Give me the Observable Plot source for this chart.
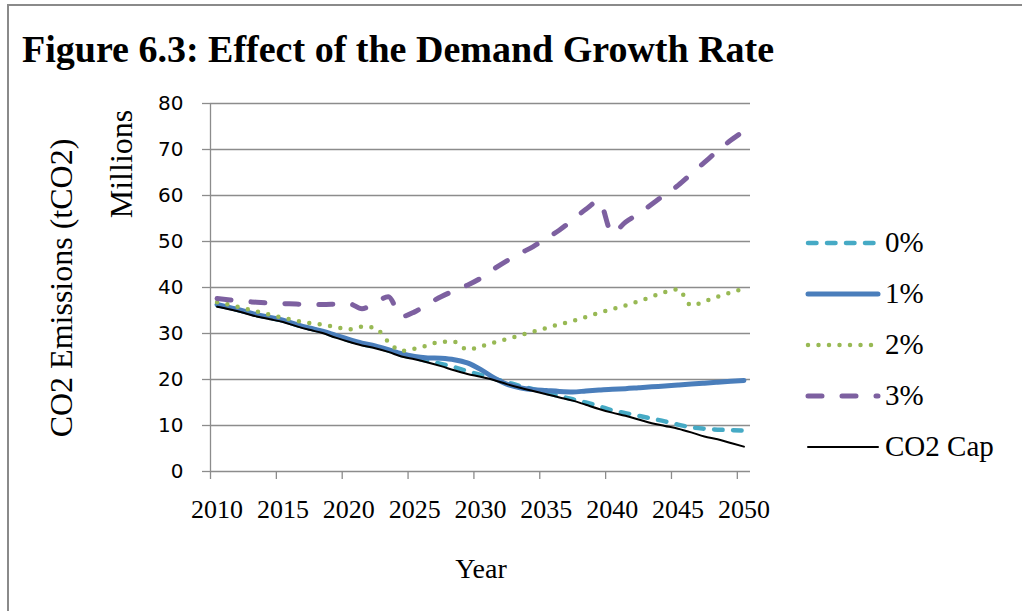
<!DOCTYPE html>
<html><head><meta charset="utf-8">
<script src="https://cdn.jsdelivr.net/npm/d3@7"></script>
<script src="https://cdn.jsdelivr.net/npm/@observablehq/plot@0.6"></script>
<style>
body{margin:0;background:#fff;}
#wrap{position:relative;width:1022px;height:611px;overflow:hidden;background:#fff;}
#frame{position:absolute;left:7px;top:4px;width:2000px;height:2000px;border-left:2px solid #8a8a8a;border-top:2px solid #8a8a8a;}
#chart,#overlay{position:absolute;left:0;top:0;}
</style></head><body>
<div id="wrap"><div id="frame"></div><div id="chart"></div><svg id="overlay" width="1022" height="611"></svg></div>
<script>
// ---- data ----
const years = [2010,2011,2012,2013,2014,2015,2016,2017,2018,2019,
               2020,2021,2022,2023,2024,2025,2026,2027,2028,2029,
               2030,2031,2032,2033,2034,2035,2036,2037,2038,2039,
               2040,2041,2042,2043,2044,2045,2046,2047,2048,2049,2050];
const pct0 = [36.2,35.5,34.8,34.0,33.4,32.8,31.9,31.1,30.4,29.4,
              28.5,27.7,27.1,26.3,25.3,24.7,24.0,23.4,22.7,21.8,
              21.0,20.2,19.4,18.6,17.9,17.1,16.4,15.7,15.0,14.2,
              13.3,12.7,12.1,11.5,10.9,10.2,9.6,9.3,9.1,9.0,8.9];
const pct1 = [36.3,35.6,34.9,34.1,33.5,32.9,32.0,31.2,30.5,29.6,
              28.7,27.9,27.3,26.5,25.6,25.0,24.7,24.6,24.3,23.6,
              22.2,20.4,19.0,18.2,17.8,17.6,17.4,17.3,17.5,17.7,
              17.9,18.0,18.2,18.4,18.6,18.8,19.0,19.2,19.4,19.6,19.8];
const pct2 = [36.8,36.2,35.5,34.8,34.1,33.4,32.8,32.3,31.9,31.4,
              30.9,31.5,31.2,28.2,26.2,26.7,27.4,28.2,28.2,26.5,
              27.2,28.0,28.8,29.6,30.4,31.2,32.0,32.7,33.6,34.5,
              35.3,36.1,37.0,38.0,39.0,39.6,36.1,37.0,38.0,38.9,39.8];
const pct3 = [37.6,37.3,37.0,36.8,36.6,36.5,36.4,36.3,36.3,36.4,
              36.5,35.4,36.6,38.0,33.7,34.7,36.4,38.0,39.3,40.5,
              42.0,44.0,45.8,47.4,48.9,50.7,52.5,54.7,57.0,58.8,
              51.8,54.2,56.0,58.1,60.2,62.2,64.7,67.2,69.7,72.0,74.0];
const co2Cap = [35.8,35.2,34.5,33.7,33.1,32.5,31.6,30.8,30.1,29.1,
                28.2,27.4,26.8,26.0,25.0,24.4,23.7,22.9,22.0,21.2,
                20.6,19.9,19.0,18.2,17.5,16.8,16.1,15.4,14.5,13.6,
                12.8,12.1,11.3,10.5,9.9,9.3,8.5,7.6,7.0,6.2,5.4];
const seriesNames = ["0%","1%","2%","3%","CO2 Cap"];
const yTicks = [0,10,20,30,40,50,60,70,80];
const xLabelYears = [2010,2015,2020,2025,2030,2035,2040,2045,2050];
const xTickBounds = [2009.5,2014.5,2019.5,2024.5,2029.5,2034.5,2039.5,2044.5,2049.5];

// ---- styles ----
const styles = {
  "0%":      {color:"#46AAC5", width:4.5, dash:"8.5,10.5"},
  "1%":      {color:"#4A7EBB", width:5,   dash:null},
  "2%":      {color:"#98B954", width:4.5, dash:"0,10.5"},
  "3%":      {color:"#7D60A0", width:5,   dash:"14,20"},
  "CO2 Cap": {color:"#000000", width:2,   dash:null}
};
const valuesByName = {"0%":pct0,"1%":pct1,"2%":pct2,"3%":pct3,"CO2 Cap":co2Cap};
const rows = seriesNames.flatMap(n => valuesByName[n].map((v,i)=>({name:n, year:years[i], value:v})));

const grid = "#8c8c8c";
const chart = Plot.plot({
  width:1022, height:611,
  marginLeft:210, marginRight:272, marginTop:103, marginBottom:140,
  x:{domain:[2009.5,2050.5]},
  y:{domain:[0,80]},
  style:{background:"transparent", overflow:"visible", color:"black"},
  marks:[
    Plot.ruleY(yTicks, {stroke:grid, strokeWidth:1.3}),
    Plot.ruleX([2009.5], {stroke:grid, strokeWidth:1.3}),
    Plot.axisY({ticks:yTicks, tickSize:8, tickPadding:19, stroke:grid, strokeWidth:1.3,
      tickFormat:d=>String(d), fontSize:20, fontFamily:"DejaVu Sans", fill:"black", label:null}),
    Plot.axisX({ticks:xTickBounds, tickSize:8, tickFormat:()=>"", stroke:grid, strokeWidth:1.3, label:null}),
    Plot.axisX({ticks:xLabelYears, tickSize:0, tickPadding:28, tickFormat:d=>String(d),
      fontSize:26, fontFamily:"Liberation Serif", fill:"black", label:null}),
    ...seriesNames.map(n => Plot.lineY(rows.filter(r=>r.name===n), {
      x:"year", y:"value", stroke:styles[n].color, strokeWidth:styles[n].width,
      strokeDasharray:styles[n].dash, strokeLinecap:"round", strokeLinejoin:"round",
      curve:"monotone-x"}))
  ]
});
document.getElementById("chart").appendChild(chart);

// ---- titles and legend ----
const ov = d3.select("#overlay");
ov.append("text").attr("x",22).attr("y",62)
  .attr("font-family","Liberation Serif").attr("font-weight","bold").attr("font-size",38)
  .text("Figure 6.3:  Effect of the Demand Growth Rate");
ov.append("text").attr("transform","translate(72,288) rotate(-90)").attr("text-anchor","middle")
  .attr("font-family","Liberation Serif").attr("font-size",32).text("CO2 Emissions (tCO2)");
ov.append("text").attr("transform","translate(132,164) rotate(-90)").attr("text-anchor","middle")
  .attr("font-family","Liberation Serif").attr("font-size",32).text("Millions");
ov.append("text").attr("x",481).attr("y",578).attr("text-anchor","middle")
  .attr("font-family","Liberation Serif").attr("font-size",28).text("Year");

const legendY0 = 243, legendStep = 51;
seriesNames.forEach((n,i)=>{
  const y = legendY0 + i*legendStep;
  const s = styles[n];
  ov.append("line").attr("x1",808).attr("x2",878).attr("y1",y).attr("y2",y)
    .attr("stroke",s.color).attr("stroke-width",s.width)
    .attr("stroke-dasharray",s.dash).attr("stroke-linecap","round");
  ov.append("text").attr("x",885).attr("y",y+9)
    .attr("font-family","Liberation Serif").attr("font-size",29).text(n);
});
</script>
</body></html>
